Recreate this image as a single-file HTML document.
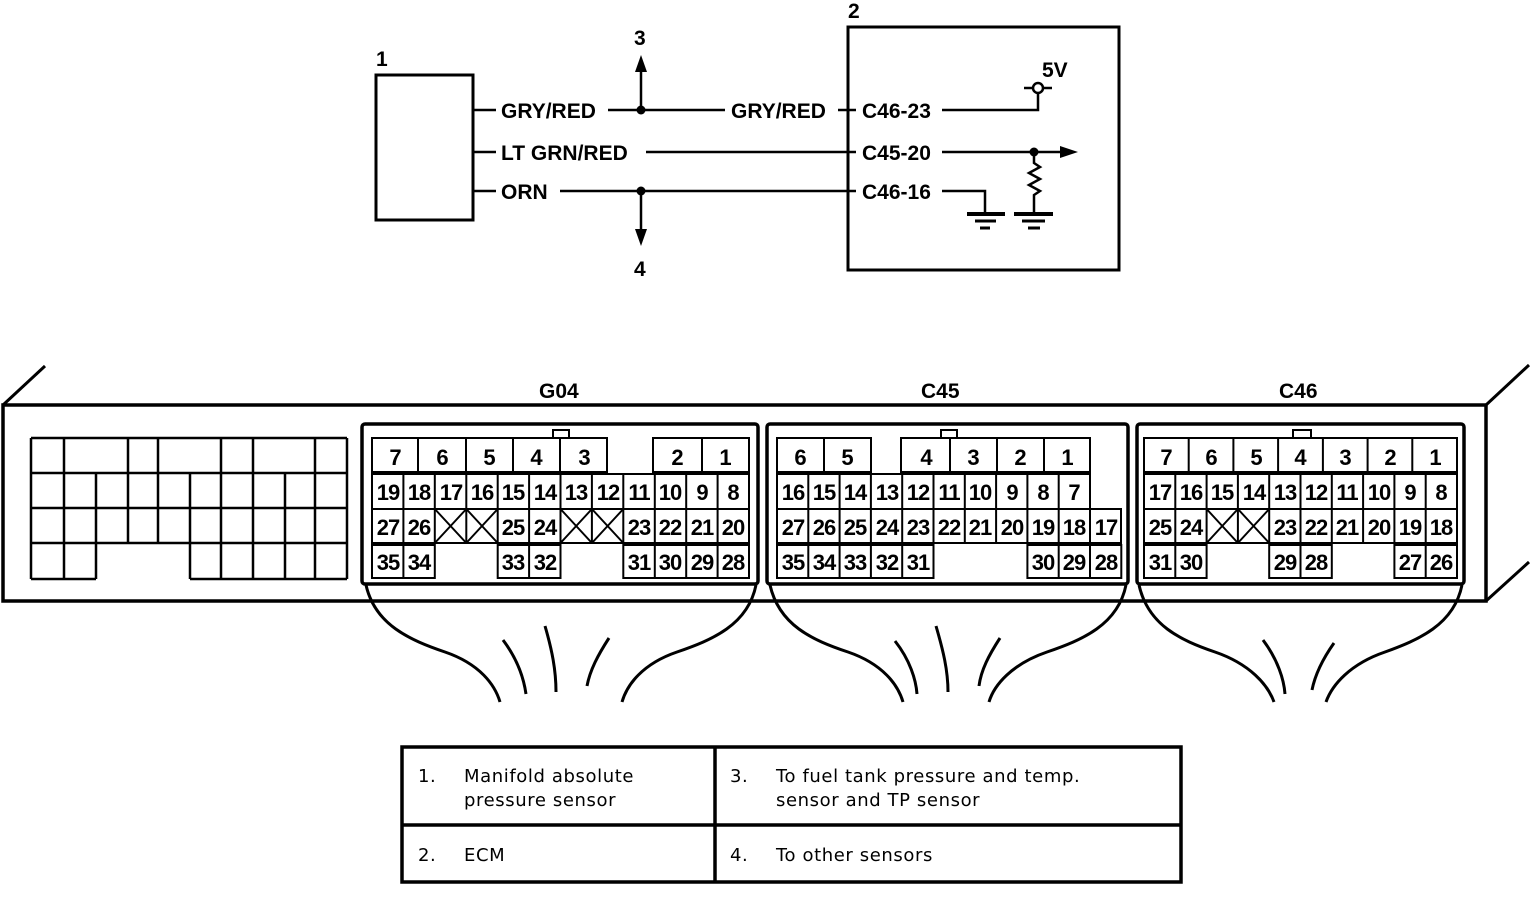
<!DOCTYPE html>
<html><head><meta charset="utf-8"><style>
html,body{margin:0;padding:0;background:#fff;}
svg{display:block;}
.n{font-family:"Liberation Sans",sans-serif;font-weight:bold;font-size:22px;text-anchor:middle;letter-spacing:-1px;}
.w{font-family:"Liberation Sans",sans-serif;font-weight:bold;font-size:21px;}
.t{font-family:"DejaVu Sans",sans-serif;font-size:18px;letter-spacing:0.6px;}
</style></head><body>
<svg width="1536" height="902" viewBox="0 0 1536 902" xmlns="http://www.w3.org/2000/svg">
<g fill="none" stroke="#000">
<rect x="376" y="75" width="97" height="145" stroke-width="3"/>
<rect x="848" y="27" width="271" height="243" stroke-width="3"/>
<g stroke-width="2.5">
<line x1="473" y1="110" x2="496" y2="110"/><line x1="608" y1="110" x2="725" y2="110"/><line x1="838" y1="110" x2="856" y2="110"/>
<line x1="473" y1="152" x2="496" y2="152"/><line x1="646" y1="152" x2="856" y2="152"/>
<line x1="473" y1="191" x2="496" y2="191"/><line x1="560" y1="191" x2="856" y2="191"/>
<line x1="641" y1="110" x2="641" y2="70"/><line x1="641" y1="191" x2="641" y2="232"/>
<polyline points="942,110 1038,110 1038,94"/>
<line x1="1024" y1="88" x2="1032" y2="88"/><line x1="1044" y1="88" x2="1052" y2="88"/>
<line x1="942" y1="152" x2="1062" y2="152"/>
<polyline points="942,191 985,191 985,212"/>
<polyline points="1034,152 1034,163 1040,167 1029,173 1040,179 1029,185 1040,191 1034,195 1034,212"/>
</g>
<circle cx="1038" cy="88" r="5" stroke-width="2.5" fill="#fff"/>
<g stroke-width="4"><line x1="967" y1="214" x2="1005" y2="214"/><line x1="1014" y1="214" x2="1053" y2="214"/></g>
<g stroke-width="3"><line x1="975" y1="221" x2="996" y2="221"/><line x1="1022" y1="221" x2="1045" y2="221"/><line x1="980" y1="228" x2="990" y2="228"/><line x1="1028" y1="228" x2="1040" y2="228"/></g>
<rect x="3" y="405" width="1483" height="196" stroke-width="3.5"/>
<g stroke-width="3"><line x1="3" y1="405" x2="45" y2="366"/><line x1="1486" y1="405" x2="1529" y2="365"/><line x1="1486" y1="601" x2="1529" y2="562"/></g>
<g stroke-width="2.5">
<line x1="31" y1="438" x2="347" y2="438"/><line x1="31" y1="473" x2="347" y2="473"/><line x1="31" y1="508" x2="347" y2="508"/><line x1="31" y1="543" x2="347" y2="543"/>
<line x1="31" y1="579" x2="96" y2="579"/><line x1="190" y1="579" x2="347" y2="579"/>
<line x1="31" y1="438" x2="31" y2="579"/><line x1="64" y1="438" x2="64" y2="579"/><line x1="96" y1="473" x2="96" y2="579"/>
<line x1="128" y1="438" x2="128" y2="543"/><line x1="158" y1="438" x2="158" y2="543"/><line x1="190" y1="473" x2="190" y2="579"/>
<line x1="221" y1="438" x2="221" y2="579"/><line x1="253" y1="438" x2="253" y2="579"/><line x1="285" y1="473" x2="285" y2="579"/>
<line x1="315" y1="438" x2="315" y2="579"/><line x1="347" y1="438" x2="347" y2="579"/>
</g>
<g stroke-width="3.5">
<rect x="362" y="424" width="396" height="160" rx="3"/>
<rect x="767" y="424" width="361" height="160" rx="3"/>
<rect x="1137" y="424" width="327" height="160" rx="3"/>
</g>
<g stroke-width="2">
<rect x="553" y="430" width="16" height="8"/><rect x="941" y="430" width="16" height="8"/><rect x="1293" y="430" width="18" height="8"/>
</g>
<g stroke-width="2">
<rect x="372" y="438" width="235" height="34"/><line x1="418" y1="438" x2="418" y2="472"/><line x1="466" y1="438" x2="466" y2="472"/><line x1="513" y1="438" x2="513" y2="472"/><line x1="560" y1="438" x2="560" y2="472"/>
<rect x="653" y="438" width="96" height="34"/><line x1="702" y1="438" x2="702" y2="472"/>
<rect x="372" y="474" width="377" height="69"/><line x1="372" y1="509" x2="749" y2="509"/>
<path d="M403.4 474V543M434.8 474V543M466.3 474V543M497.7 474V543M529.1 474V543M560.5 474V543M591.9 474V543M623.3 474V543M654.8 474V543M686.2 474V543M717.6 474V543"/>
<path d="M434.8 509L466.3 543M466.3 509L434.8 543M466.3 509L497.7 543M497.7 509L466.3 543M560.5 509L591.9 543M591.9 509L560.5 543M591.9 509L623.3 543M623.3 509L591.9 543"/>
<rect x="372" y="545" width="62.8" height="33"/><line x1="403.4" y1="545" x2="403.4" y2="578"/>
<rect x="497.7" y="545" width="62.8" height="33"/><line x1="529.1" y1="545" x2="529.1" y2="578"/>
<rect x="623.3" y="545" width="125.7" height="33"/><path d="M654.8 545V578M686.2 545V578M717.6 545V578"/>
<rect x="777" y="438" width="94" height="34"/><line x1="824" y1="438" x2="824" y2="472"/>
<rect x="901" y="438" width="189" height="34"/><path d="M950 438V472M997 438V472M1044 438V472"/>
<rect x="777" y="474" width="313" height="35"/><rect x="777" y="509" width="344" height="34"/>
<path d="M808.3 474V543M839.6 474V543M870.9 474V543M902.2 474V543M933.5 474V543M964.8 474V543M996.1 474V543M1027.4 474V543M1058.7 474V543M1090 509V543"/>
<rect x="777" y="545" width="156.5" height="33"/><path d="M808.3 545V578M839.6 545V578M870.9 545V578M902.2 545V578"/>
<rect x="1027.4" y="545" width="93.9" height="33"/><path d="M1058.7 545V578M1090 545V578"/>
<rect x="1144" y="438" width="313" height="34"/><path d="M1188.7 438V472M1233.4 438V472M1278.1 438V472M1322.9 438V472M1367.6 438V472M1412.3 438V472"/>
<rect x="1144" y="474" width="313" height="69"/><line x1="1144" y1="509" x2="1457" y2="509"/>
<path d="M1175.3 474V543M1206.6 474V543M1237.9 474V543M1269.2 474V543M1300.5 474V543M1331.8 474V543M1363.1 474V543M1394.4 474V543M1425.7 474V543"/>
<path d="M1206.6 509L1237.9 543M1237.9 509L1206.6 543M1237.9 509L1269.2 543M1269.2 509L1237.9 543"/>
<rect x="1144" y="545" width="62.6" height="33"/><line x1="1175.3" y1="545" x2="1175.3" y2="578"/>
<rect x="1269.2" y="545" width="62.6" height="33"/><line x1="1300.5" y1="545" x2="1300.5" y2="578"/>
<rect x="1394.4" y="545" width="62.6" height="33"/><line x1="1425.7" y1="545" x2="1425.7" y2="578"/>
</g>
<g stroke-width="3">
<path d="M366 585C375 625 410 640 445 652C480 664 495 685 500 702"/>
<path d="M756 585C748 625 712 640 677 652C642 664 627 685 622 702"/>
<path d="M503 640C518 660 524 680 526 694"/><path d="M545 626C552 650 556 670 556 692"/><path d="M609 638C598 655 590 670 587 686"/>
<path d="M770 585C779 625 812 640 848 652C883 664 898 685 903 702"/>
<path d="M1126 585C1118 625 1082 640 1047 652C1012 664 994 685 989 702"/>
<path d="M895 641C910 660 916 680 917 694"/><path d="M936 626C943 650 948 670 948 692"/><path d="M1000 638C989 655 981 670 979 686"/>
<path d="M1139 585C1148 625 1180 640 1215 652C1250 664 1268 685 1274 702"/>
<path d="M1462 585C1454 625 1418 640 1385 652C1350 664 1332 685 1326 702"/>
<path d="M1263 640C1278 660 1284 680 1285 694"/><path d="M1334 643C1322 660 1315 675 1312 690"/>
</g>
<rect x="402" y="747" width="779" height="135" stroke-width="3.5"/>
<line x1="715" y1="747" x2="715" y2="882" stroke-width="3.5"/>
<line x1="402" y1="825" x2="1181" y2="825" stroke-width="3.5"/>
</g>
<g fill="#000">
<circle cx="641" cy="110" r="4.5"/><circle cx="641" cy="191" r="4.5"/><circle cx="1034" cy="152" r="4.5"/>
<polygon points="641,55 635,72 647,72"/><polygon points="641,246 635,229 647,229"/><polygon points="1078,152 1060,146 1060,158"/>
</g>
<g class="w">
<text x="376" y="66">1</text><text x="848" y="18">2</text>
<text x="634" y="45">3</text><text x="634" y="276">4</text>
<text x="501" y="118">GRY/RED</text><text x="731" y="118">GRY/RED</text>
<text x="501" y="160">LT GRN/RED</text><text x="501" y="199">ORN</text>
<text x="862" y="118">C46-23</text><text x="862" y="160">C45-20</text><text x="862" y="199">C46-16</text>
<text x="1042" y="77">5V</text>
<text x="539" y="398">G04</text><text x="921" y="398">C45</text><text x="1279" y="398">C46</text>
</g>
<g class="n">
<text x="395" y="465">7</text><text x="442" y="465">6</text><text x="489" y="465">5</text><text x="536" y="465">4</text><text x="584" y="465">3</text><text x="677" y="465">2</text><text x="725" y="465">1</text>
<text x="388" y="500">19</text><text x="419" y="500">18</text><text x="451" y="500">17</text><text x="482" y="500">16</text><text x="513" y="500">15</text><text x="545" y="500">14</text><text x="576" y="500">13</text><text x="608" y="500">12</text><text x="639" y="500">11</text><text x="670" y="500">10</text><text x="702" y="500">9</text><text x="733" y="500">8</text>
<text x="388" y="535">27</text><text x="419" y="535">26</text><text x="513" y="535">25</text><text x="545" y="535">24</text><text x="639" y="535">23</text><text x="670" y="535">22</text><text x="702" y="535">21</text><text x="733" y="535">20</text>
<text x="388" y="570">35</text><text x="419" y="570">34</text><text x="513" y="570">33</text><text x="545" y="570">32</text><text x="639" y="570">31</text><text x="670" y="570">30</text><text x="702" y="570">29</text><text x="733" y="570">28</text>
<text x="800" y="465">6</text><text x="847" y="465">5</text><text x="926" y="465">4</text><text x="973" y="465">3</text><text x="1020" y="465">2</text><text x="1067" y="465">1</text>
<text x="793" y="500">16</text><text x="824" y="500">15</text><text x="855" y="500">14</text><text x="887" y="500">13</text><text x="918" y="500">12</text><text x="949" y="500">11</text><text x="980" y="500">10</text><text x="1012" y="500">9</text><text x="1043" y="500">8</text><text x="1074" y="500">7</text>
<text x="793" y="535">27</text><text x="824" y="535">26</text><text x="855" y="535">25</text><text x="887" y="535">24</text><text x="918" y="535">23</text><text x="949" y="535">22</text><text x="980" y="535">21</text><text x="1012" y="535">20</text><text x="1043" y="535">19</text><text x="1074" y="535">18</text><text x="1106" y="535">17</text>
<text x="793" y="570">35</text><text x="824" y="570">34</text><text x="855" y="570">33</text><text x="887" y="570">32</text><text x="918" y="570">31</text><text x="1043" y="570">30</text><text x="1074" y="570">29</text><text x="1106" y="570">28</text>
<text x="1166" y="465">7</text><text x="1211" y="465">6</text><text x="1256" y="465">5</text><text x="1300" y="465">4</text><text x="1345" y="465">3</text><text x="1390" y="465">2</text><text x="1435" y="465">1</text>
<text x="1160" y="500">17</text><text x="1191" y="500">16</text><text x="1222" y="500">15</text><text x="1254" y="500">14</text><text x="1285" y="500">13</text><text x="1316" y="500">12</text><text x="1347" y="500">11</text><text x="1379" y="500">10</text><text x="1410" y="500">9</text><text x="1441" y="500">8</text>
<text x="1160" y="535">25</text><text x="1191" y="535">24</text><text x="1285" y="535">23</text><text x="1316" y="535">22</text><text x="1347" y="535">21</text><text x="1379" y="535">20</text><text x="1410" y="535">19</text><text x="1441" y="535">18</text>
<text x="1160" y="570">31</text><text x="1191" y="570">30</text><text x="1285" y="570">29</text><text x="1316" y="570">28</text><text x="1410" y="570">27</text><text x="1441" y="570">26</text>
</g>
<g class="t">
<text x="418" y="782">1.</text><text x="464" y="782">Manifold absolute</text><text x="464" y="806">pressure sensor</text>
<text x="418" y="861">2.</text><text x="464" y="861">ECM</text>
<text x="730" y="782">3.</text><text x="776" y="782">To fuel tank pressure and temp.</text><text x="776" y="806">sensor and TP sensor</text>
<text x="730" y="861">4.</text><text x="776" y="861">To other sensors</text>
</g>
</svg>
</body></html>
